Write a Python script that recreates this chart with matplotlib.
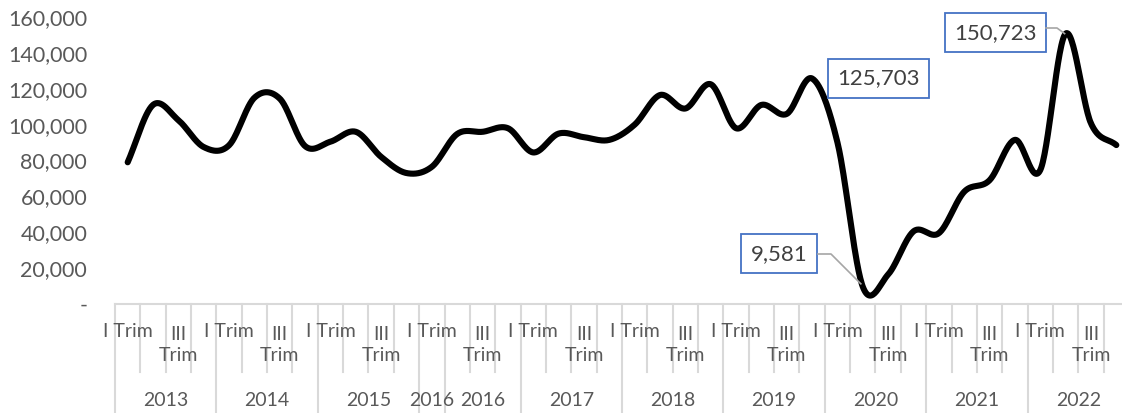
import numpy as np
import matplotlib
matplotlib.use("Agg")
import matplotlib.pyplot as plt
from matplotlib.lines import Line2D
import matplotlib.transforms as mtransforms

# ---------------- data ----------------
years = ["2013", "2014", "2015", "2016", "2016", "2017", "2018", "2019", "2020", "2021", "2022"]
year_quarters = [
    ["I Trim", "II Trim", "III Trim", "IV Trim"],
    ["I Trim", "II Trim", "III Trim", "IV Trim"],
    ["I Trim", "II Trim", "III Trim", "IV Trim"],
    ["I Trim"],
    ["II Trim", "III Trim", "IV Trim"],
    ["I Trim", "II Trim", "III Trim", "IV Trim"],
    ["I Trim", "II Trim", "III Trim", "IV Trim"],
    ["I Trim", "II Trim", "III Trim", "IV Trim"],
    ["I Trim", "II Trim", "III Trim", "IV Trim"],
    ["I Trim", "II Trim", "III Trim", "IV Trim"],
    ["I Trim", "II Trim", "III Trim", "IV Trim"],
]
values = [79000, 111000, 102500, 87500, 88500, 115000, 114500, 88000,
          90500, 96000, 82000, 73000, 76500, 94800, 96000, 98000,
          84500, 95000, 93000, 91500, 100000, 116500, 109000, 122500,
          98000, 111000, 106000, 125703, 90000, 9581, 16500, 40500,
          39500, 62600, 69000, 91500, 74700, 150723, 100700, 88600]
labelled_points = [27, 29, 37]  # indices with data labels
y_ticks = [0, 20000, 40000, 60000, 80000, 100000, 120000, 140000, 160000]

# ---------------- style ----------------
FONT = "Lato"
TXT = "#595959"
GRID = "#D9D9D9"
plt.rcParams["font.family"] = [FONT, "DejaVu Sans"]

W, H = 1122, 413
fig = plt.figure(figsize=(W / 100, H / 100), dpi=100)
x_left, x_right = 115, 1129
y_top, y_bot = 17, 304
ax = fig.add_axes([x_left / W, (H - y_bot) / H, (x_right - x_left) / W, (y_bot - y_top) / H])

n = len(values)
x = np.arange(n)
y = np.array(values, dtype=float)

# Catmull-Rom smoothing (like Excel's smoothed line)
def smooth(xs, ys, steps=30):
    px = np.concatenate([[2 * xs[0] - xs[1]], xs, [2 * xs[-1] - xs[-2]]])
    py = np.concatenate([[2 * ys[0] - ys[1]], ys, [2 * ys[-1] - ys[-2]]])
    outx, outy = [], []
    t = np.linspace(0, 1, steps, endpoint=False)
    for i in range(1, len(px) - 2):
        p0, p1, p2, p3 = py[i - 1], py[i], py[i + 1], py[i + 2]
        q0, q1, q2, q3 = px[i - 1], px[i], px[i + 1], px[i + 2]
        b1x, b1y = q1 + (q2 - q0) / 6, p1 + (p2 - p0) / 6
        b2x, b2y = q2 - (q3 - q1) / 6, p2 - (p3 - p1) / 6
        mt = 1 - t
        outx.append(mt**3 * q1 + 3 * mt**2 * t * b1x + 3 * mt * t**2 * b2x + t**3 * q2)
        outy.append(mt**3 * p1 + 3 * mt**2 * t * b1y + 3 * mt * t**2 * b2y + t**3 * p2)
    outx.append([xs[-1]]); outy.append([ys[-1]])
    return np.concatenate(outx), np.concatenate(outy)

sx, sy = smooth(x.astype(float), y)
ax.plot(sx, sy, color="black", lw=4.4, solid_capstyle="round", solid_joinstyle="round", zorder=3)

ax.set_xlim(-0.5, n - 0.5)
ax.set_ylim(0, 160000)
for s in ["top", "right", "left"]:
    ax.spines[s].set_visible(False)
ax.spines["bottom"].set_color(GRID)
ax.spines["bottom"].set_linewidth(1.5)
ax.set_xticks([])
ax.set_yticks(y_ticks)
ax.set_yticklabels(["-" if v == 0 else f"{v:,}" for v in y_ticks])
ax.tick_params(axis="y", length=0, pad=20, labelsize=15.5, labelcolor=TXT)
for lab in ax.get_yticklabels():
    lab.set_fontfamily([FONT, "DejaVu Sans"])

# ---------------- category axis ----------------
trans = mtransforms.blended_transform_factory(ax.transData, fig.transFigure)
def fy(py):
    return (H - py) / H

idx = 0
for yr, qs in zip(years, year_quarters):
    start = idx
    fig.add_artist(Line2D([start - 0.5, start - 0.5], [fy(304), fy(413)], transform=trans,
                          color=GRID, lw=1.5))
    for k, q in enumerate(qs):
        i = idx + k
        if k > 0:
            fig.add_artist(Line2D([i - 0.5, i - 0.5], [fy(304), fy(372)], transform=trans,
                                  color=GRID, lw=1.5))
        if i % 2 == 0:
            if len(q) <= 6:
                fig.text(i, fy(331.5), q, transform=trans, ha="center", va="center",
                         fontsize=14, color=TXT)
            else:
                fig.text(i, fy(345), q.replace(" ", "\n"), transform=trans, ha="center",
                         va="center", fontsize=14, color=TXT, linespacing=1.35)
    idx += len(qs)
    fig.text((start + idx - 1) / 2, fy(400), yr, transform=trans, ha="center", va="center",
             fontsize=14, color=TXT)
fig.add_artist(Line2D([idx - 0.5, idx - 0.5], [fy(304), fy(413)], transform=trans,
                      color=GRID, lw=1.5))

# ---------------- data labels ----------------
offsets = {27: (66, 0), 29: (-84, 33), 37: (-70, 1)}
for i in labelled_points:
    dx, dy = offsets[i]
    ax.annotate(f"{values[i]:,}", xy=(i, values[i]), xytext=(dx, dy),
                textcoords="offset pixels", ha="center", va="center",
                fontsize=16, color="#404040",
                bbox=dict(boxstyle="square,pad=0.42", fc="white", ec="#4472C4", lw=1.3),
                zorder=5)

# leader lines in pixel coordinates
def px_pt(i):
    return ax.transData.transform((i, values[i]))
X, Y = px_pt(29)
fig.add_artist(Line2D([818, 831, X - 2], [H - 254, H - 254, Y + 3], transform=None,
                      color="#A6A6A6", lw=1.2, zorder=4))
X, Y = px_pt(37)
fig.add_artist(Line2D([1046, 1057, X - 1], [H - 28, H - 28, Y], transform=None,
                      color="#A6A6A6", lw=1.2, zorder=4))

fig.savefig("out.png", dpi=100)
